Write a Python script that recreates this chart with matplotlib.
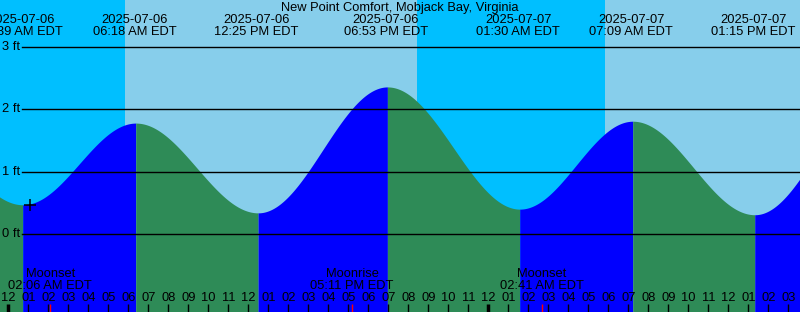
import numpy as np
import matplotlib

matplotlib.use("Agg")
import matplotlib.pyplot as plt

plt.rcParams["font.family"] = ["Liberation Sans", "DejaVu Sans"]

title = "New Point Comfort, Mobjack Bay, Virginia"

# tide extremes: hours since 2025-07-06 00:00 EDT, height in ft
tide_hours = [-6.2, 0.65, 6.30, 12.417, 18.883, 25.50, 31.15, 37.25, 43.5]
tide_heights = [2.30, 0.47, 1.78, 0.34, 2.36, 0.40, 1.81, 0.31, 2.30]
tide_dates = ["", "2025-07-06", "2025-07-06", "2025-07-06", "2025-07-06",
              "2025-07-07", "2025-07-07", "2025-07-07", ""]
tide_times = ["", "12:39 AM EDT", "06:18 AM EDT", "12:25 PM EDT", "06:53 PM EDT",
              "01:30 AM EDT", "07:09 AM EDT", "01:15 PM EDT", ""]

# night intervals (sunset -> sunrise), hours
night_spans = [(-12.0, 5.83), (20.45, 29.82)]

moon_hours = [2.10, 17.183, 26.683]
moon_names = ["Moonset", "Moonrise", "Moonset"]
moon_times = ["02:06 AM EDT", "05:11 PM EDT", "02:41 AM EDT"]

now_hour = 1.08
now_height = 0.465

grid_ft = [0, 1, 2, 3]

x0, x1 = -8.33 / 20, (800 - 8.33) / 20
y0, y1 = -1.25, 3.754
fs = 9.3
shift = 0.07  # fill edges sit a pixel or so right of the labels

fig = plt.figure(figsize=(8, 3.12), dpi=100)
ax = fig.add_axes([0, 0, 1, 1])
ax.set_xlim(x0, x1)
ax.set_ylim(y0, y1)
ax.axis("off")

day_col = "#87CEEB"
night_col = "#00BFFF"
ax.axvspan(x0, x1, color=day_col, lw=0, zorder=0)
for a, b in night_spans:
    ax.axvspan(a, b, color=night_col, lw=0, zorder=0.5)

# curve between extremes, filled blue while rising, green while falling
for i in range(len(tide_hours) - 1):
    ta, tb = tide_hours[i] + shift, tide_hours[i + 1] + shift
    ha, hb = tide_heights[i], tide_heights[i + 1]
    t = np.linspace(ta, tb, 200)
    h = ha + (hb - ha) * (1 - np.cos(np.pi * (t - ta) / (tb - ta))) / 2
    col = "#0000FF" if hb > ha else "#2E8B57"
    ax.fill_between(t, y0, h, color=col, lw=0, zorder=1)

# grid lines and labels
for g in grid_ft:
    ax.plot([22 / 20 + x0, x1], [g, g], color="black", lw=1.0, zorder=2)
    ax.text(20 / 20 + x0, g, "%d ft" % g, ha="right", va="center",
            fontsize=fs, zorder=3)

ax.plot(now_hour, now_height, marker="+", color="black", ms=9, mew=1.1, zorder=3)

ppf = 312 / (y1 - y0)  # pixels per ft


def py(pix):
    # pixel row from top -> data y
    return y1 - pix / ppf


ax.text((400 - 8.33) / 20, py(8.5), title, ha="center", va="center", fontsize=fs, zorder=3)
for t, d, s in zip(tide_hours, tide_dates, tide_times):
    if not d:
        continue
    ax.text(t, py(20), d, ha="center", va="center", fontsize=fs, zorder=3)
    ax.text(t, py(32), s, ha="center", va="center", fontsize=fs, zorder=3)

# hour ticks
for hr in range(0, 40):
    lab = "%02d" % (12 if hr % 12 == 0 else hr % 12)
    ax.text(hr, py(298), lab, ha="center", va="center", fontsize=fs, zorder=3)
    lw = 2.5 if hr % 24 == 0 else 1
    ax.plot([hr, hr], [py(304), py(312)], color="black", lw=lw, zorder=3,
            solid_capstyle="butt")

for t, n, s in zip(moon_hours, moon_names, moon_times):
    ax.text(t, py(274), n, ha="center", va="center", fontsize=fs, zorder=3)
    ax.text(t, py(286), s, ha="center", va="center", fontsize=fs, zorder=3)
    ax.plot([t, t], [py(304), py(312)], color="red", lw=1, zorder=3,
            solid_capstyle="butt")

fig.savefig("out.png", dpi=100)
